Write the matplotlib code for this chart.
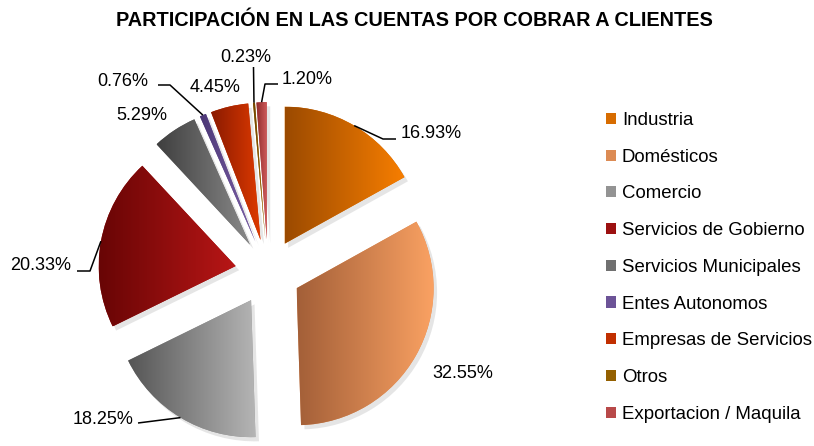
import numpy as np
import matplotlib
matplotlib.use("Agg")
import matplotlib.pyplot as plt
from matplotlib.patches import Patch
import matplotlib.patheffects as pe

plt.rcParams['font.family'] = ['Liberation Sans', 'DejaVu Sans']

# ---------------- data ----------------
categories = ["Industria", "Domésticos", "Comercio", "Servicios de Gobierno",
              "Servicios Municipales", "Entes Autonomos", "Empresas de Servicios",
              "Otros", "Exportacion / Maquila"]
values = [16.93, 32.55, 18.25, 20.33, 5.29, 0.76, 4.45, 0.23, 1.20]
pct_labels = ["16.93%", "32.55%", "18.25%", "20.33%", "5.29%", "0.76%",
              "4.45%", "0.23%", "1.20%"]
title = "PARTICIPACIÓN EN LAS CUENTAS POR COBRAR A CLIENTES"

# ---------------- style ----------------
dark_colors = ["#9b4a00", "#a35f38", "#555555", "#680505", "#3f3f3f",
               "#4b3776", "#8a1a00", "#6e4300", "#8c2a2a"]
light_colors = ["#f77e00", "#fba263", "#b5b5b5", "#b81616", "#8a8a8a",
                "#7e62a8", "#de3a00", "#a87000", "#cf5a5a"]

W, H = 814, 446
fig = plt.figure(figsize=(W / 100, H / 100), dpi=100)
ax = fig.add_axes([0, 0, 1, 1])

R = 137
cx, cy = 268, H - 272
explode_frac = 0.24

mid_colors = []
for d, l in zip(dark_colors, light_colors):
    dc = np.array(matplotlib.colors.to_rgb(d))
    lc = np.array(matplotlib.colors.to_rgb(l))
    mid_colors.append(tuple(0.35 * dc + 0.65 * lc))

wedges, _ = ax.pie(values, center=(cx, cy), radius=R, startangle=90,
                   counterclock=False, explode=[explode_frac * R] * len(values),
                   colors=mid_colors, frame=True,
                   wedgeprops=dict(linewidth=0))

ax.set_aspect('auto')
ax.set_xlim(0, W)
ax.set_ylim(0, H)
ax.axis('off')

# gradient fill + soft shadow
for w, d, l in zip(wedges, dark_colors, light_colors):
    w.set_path_effects([pe.SimplePatchShadow(offset=(2.5, -3), shadow_rgbFace=(0.6, 0.6, 0.6), alpha=0.25),
                        pe.Normal()])
    ext = w.get_path().get_extents()
    cmap = matplotlib.colors.LinearSegmentedColormap.from_list("g", [d, l])
    grad = np.linspace(0, 1, 256).reshape(1, -1)
    im = ax.imshow(grad, cmap=cmap, extent=(ext.x0, ext.x1, ext.y0, ext.y1),
                   aspect='auto', interpolation='bilinear', zorder=w.get_zorder() + 0.1)
    im.set_clip_path(w)

ax.set_xlim(0, W)
ax.set_ylim(0, H)

# ---------------- labels ----------------
# text position (left x, centre y) in image pixels; leader-line elbow points
label_pos = [(401, 133), (432, 373), (73, 420), (10, 265), (116, 115),
             (97, 82), (190, 87), (220, 57), (282, 80)]
leaders = [[(383, 139), (396, 139)],
           None,
           [(138, 423)],
           [(90, 271), (77, 271)],
           None,
           [(170, 85), (158, 85)],
           None,
           [(253.5, 67)],
           [(265, 84), (278, 84)]]

for w, txt, (tx, ty), ld in zip(wedges, pct_labels, label_pos, leaders):
    ax.text(tx, H - ty, txt, ha='left', va='center', fontsize=13, color='black')
    if ld is not None:
        thm = np.deg2rad(0.5 * (w.theta1 + w.theta2))
        ax0, ay0 = w.center
        anchor = (ax0 + w.r * np.cos(thm), ay0 + w.r * np.sin(thm))
        xs = [anchor[0]] + [p[0] for p in ld]
        ys = [anchor[1]] + [H - p[1] for p in ld]
        ax.plot(xs, ys, color='black', lw=1.1, solid_capstyle='butt', zorder=5)

ax.text(414, H - 20, title, ha='center', va='center', fontsize=14.3,
        fontweight='bold', color='black')

handles = [Patch(facecolor=c, edgecolor='none') for c in mid_colors]
ax.legend(handles, categories, loc='upper left',
          bbox_to_anchor=(606 / W, (H - 112) / H), frameon=False,
          fontsize=13.4, handlelength=0.55, handleheight=0.55,
          handletextpad=0.3, labelspacing=1.06, borderpad=0, borderaxespad=0)

fig.savefig("out.png", dpi=100)
